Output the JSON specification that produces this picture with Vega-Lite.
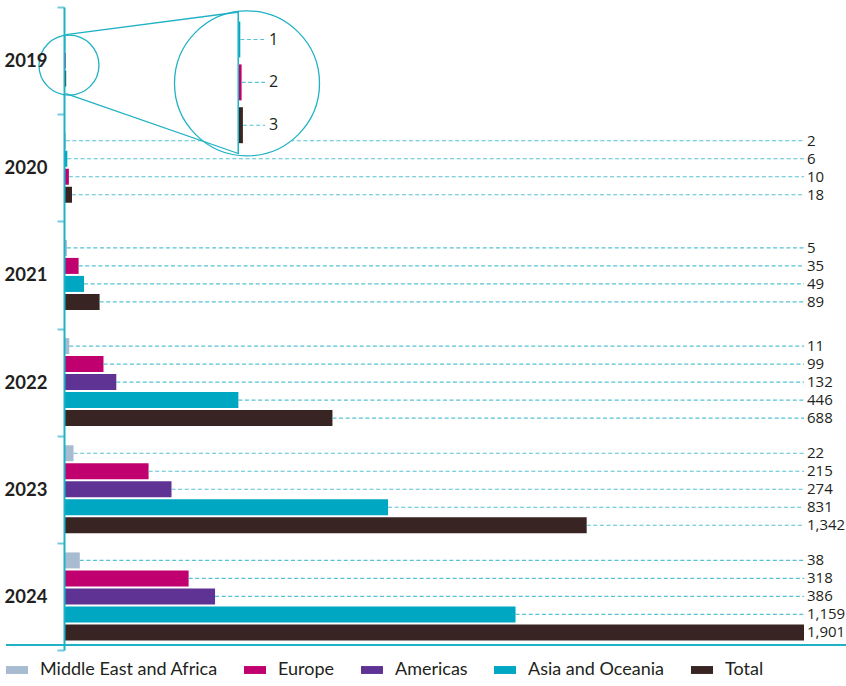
{
  "$schema": "https://vega.github.io/schema/vega-lite/v6.json",
  "width": 739,
  "height": 643,
  "autosize": "none",
  "padding": {"left": 65, "top": 7, "right": 42, "bottom": 36},
  "background": "white",
  "data": {
    "values": [
      {"year": 2019, "region": "Asia and Oceania", "value": 1},
      {"year": 2019, "region": "Europe", "value": 2},
      {"year": 2019, "region": "Total", "value": 3},
      {"year": 2020, "region": "Middle East and Africa", "value": 2},
      {"year": 2020, "region": "Asia and Oceania", "value": 6},
      {"year": 2020, "region": "Europe", "value": 10},
      {"year": 2020, "region": "Total", "value": 18},
      {"year": 2021, "region": "Middle East and Africa", "value": 5},
      {"year": 2021, "region": "Europe", "value": 35},
      {"year": 2021, "region": "Asia and Oceania", "value": 49},
      {"year": 2021, "region": "Total", "value": 89},
      {"year": 2022, "region": "Middle East and Africa", "value": 11},
      {"year": 2022, "region": "Europe", "value": 99},
      {"year": 2022, "region": "Americas", "value": 132},
      {"year": 2022, "region": "Asia and Oceania", "value": 446},
      {"year": 2022, "region": "Total", "value": 688},
      {"year": 2023, "region": "Middle East and Africa", "value": 22},
      {"year": 2023, "region": "Europe", "value": 215},
      {"year": 2023, "region": "Americas", "value": 274},
      {"year": 2023, "region": "Asia and Oceania", "value": 831},
      {"year": 2023, "region": "Total", "value": 1342},
      {"year": 2024, "region": "Middle East and Africa", "value": 38},
      {"year": 2024, "region": "Europe", "value": 318},
      {"year": 2024, "region": "Americas", "value": 386},
      {"year": 2024, "region": "Asia and Oceania", "value": 1159},
      {"year": 2024, "region": "Total", "value": 1901}
    ]
  },
  "transform": [
    {"window": [{"op": "row_number", "as": "rank"}], "groupby": ["year"], "sort": [{"field": "value", "order": "ascending"}]},
    {"joinaggregate": [{"op": "count", "as": "n"}], "groupby": ["year"]},
    {"calculate": "2 * (datum.rank - 1) + 5 - datum.n", "as": "slot"}
  ],
  "layer": [
    {
      "layer": [
        {
          "mark": {"type": "bar", "height": 16},
          "encoding": {
            "y": {
              "field": "year",
              "type": "ordinal",
              "scale": {"paddingInner": 0, "paddingOuter": 0},
              "axis": {
                "title": null,
                "zindex": 1,
                "offset": 1,
                "domainColor": "#1fb1c4",
                "domainWidth": 2,
                "tickColor": "#72cbd8",
                "tickWidth": 2,
                "tickSize": 7,
                "tickBand": "extent",
                "labelFont": "Lato",
                "labelFontWeight": "bold",
                "labelFontSize": 18.5,
                "labelColor": "#231f20",
                "labelPadding": 10
              }
            },
            "yOffset": {
              "field": "slot",
              "type": "ordinal",
              "scale": {"domain": [-1, 0, 1, 2, 3, 4, 5, 6, 7, 8, 9], "paddingInner": 0, "paddingOuter": 0.454}
            },
            "x": {
              "field": "value",
              "type": "quantitative",
              "scale": {"domain": [0, 1901], "nice": false},
              "axis": null
            },
            "color": {
              "field": "region",
              "type": "nominal",
              "scale": {
                "domain": ["Middle East and Africa", "Europe", "Americas", "Asia and Oceania", "Total"],
                "range": ["#a7bcd1", "#c0006f", "#5f3394", "#00a7c2", "#382523"]
              },
              "legend": {
                "title": null,
                "orient": "none",
                "direction": "horizontal",
                "legendX": -59,
                "legendY": 652,
                "symbolType": "M-1,-0.36H1V0.36H-1Z",
                "symbolSize": 484,
                "symbolStrokeWidth": 0,
                "labelFont": "Lato",
                "labelFontSize": 18,
                "labelColor": "#231f20",
                "labelOffset": 12,
                "labelLimit": 300,
                "columnPadding": 26
              }
            }
          }
        },
        {
          "transform": [{"filter": "datum.year != 2019"}],
          "mark": {"type": "rule", "strokeDash": [4, 2.6], "color": "#55c3d1", "strokeWidth": 1.1},
          "encoding": {
            "y": {"field": "year", "type": "ordinal"},
            "yOffset": {"field": "slot", "type": "ordinal"},
            "x": {"field": "value", "type": "quantitative"},
            "x2": {"datum": 1901}
          }
        },
        {
          "transform": [{"filter": "datum.year != 2019"}],
          "mark": {"type": "text", "align": "left", "baseline": "middle", "dx": 3, "font": "Open Sans", "fontSize": 15, "color": "#231f20"},
          "encoding": {
            "y": {"field": "year", "type": "ordinal"},
            "yOffset": {"field": "slot", "type": "ordinal"},
            "x": {"datum": 1901, "type": "quantitative"},
            "text": {"field": "value", "type": "quantitative", "format": ","}
          }
        }
      ]
    },
    {
      "layer": [
        {
          "data": {"values": [{}]},
          "mark": {"type": "point", "shape": "circle", "size": 21025, "filled": true, "fill": "white", "stroke": "#1fb1c4", "strokeWidth": 1.3, "opacity": 1},
          "encoding": {
            "x": {"datum": 6.15, "type": "quantitative", "scale": {"domain": [-133.85, 434.6], "nice": false, "zero": false}, "axis": null},
            "y": {"datum": 4.046, "type": "quantitative", "scale": {"domain": [0.7126, 30.276], "nice": false, "zero": false, "reverse": true}, "axis": null}
          }
        },
        {
          "data": {"values": [{}]},
          "mark": {"type": "point", "shape": "circle", "size": 3600, "filled": false, "stroke": "#1fb1c4", "strokeWidth": 1.3, "opacity": 1},
          "encoding": {
            "x": {"datum": -130.8, "type": "quantitative"},
            "y": {"datum": 3.195, "type": "quantitative"}
          }
        },
        {
          "data": {"values": [{}]},
          "mark": {"type": "rule", "color": "#1fb1c4", "strokeWidth": 1.3},
          "encoding": {
            "x": {"datum": -133.1, "type": "quantitative"},
            "y": {"datum": 1.77, "type": "quantitative"},
            "x2": {"datum": 0},
            "y2": {"datum": 0.7126}
          }
        },
        {
          "data": {"values": [{}]},
          "mark": {"type": "rule", "color": "#1fb1c4", "strokeWidth": 1.3},
          "encoding": {
            "x": {"datum": -133.1, "type": "quantitative"},
            "y": {"datum": 4.529, "type": "quantitative"},
            "x2": {"datum": 0},
            "y2": {"datum": 7.333}
          }
        },
        {
          "data": {"values": [{}]},
          "mark": {"type": "rule", "color": "#1fb1c4", "strokeWidth": 1.5},
          "encoding": {
            "x": {"datum": -0.6, "type": "quantitative"},
            "y": {"datum": 0.7126, "type": "quantitative"},
            "y2": {"datum": 7.333}
          }
        },
        {
          "transform": [{"filter": "datum.year == 2019"}],
          "mark": {"type": "bar", "height": 36},
          "encoding": {
            "x": {"field": "value", "type": "quantitative"},
            "x2": {"datum": 0},
            "y": {"field": "slot", "type": "quantitative"},
            "color": {"field": "region", "type": "nominal"}
          }
        },
        {
          "transform": [{"filter": "datum.year == 2019"}],
          "mark": {"type": "rule", "strokeDash": [4, 2.6], "color": "#55c3d1", "strokeWidth": 1.1},
          "encoding": {
            "x": {"field": "value", "type": "quantitative"},
            "x2": {"datum": 20},
            "y": {"field": "slot", "type": "quantitative"}
          }
        },
        {
          "transform": [{"filter": "datum.year == 2019"}],
          "mark": {"type": "text", "align": "left", "baseline": "middle", "dx": 4, "font": "Open Sans", "fontSize": 16, "color": "#231f20"},
          "encoding": {
            "x": {"datum": 20, "type": "quantitative"},
            "y": {"field": "slot", "type": "quantitative"},
            "text": {"field": "value", "type": "quantitative"}
          }
        },
        {
          "data": {"values": [{}]},
          "mark": {"type": "rule", "color": "#1fb1c4", "strokeWidth": 2},
          "encoding": {
            "x": {"datum": -179.2, "type": "quantitative"},
            "x2": {"datum": 466.9},
            "y": {"datum": 30.276, "type": "quantitative"}
          }
        }
      ]
    }
  ],
  "resolve": {"scale": {"x": "independent", "y": "independent"}},
  "config": {
    "view": {"stroke": null},
    "font": "Lato"
  }
}
